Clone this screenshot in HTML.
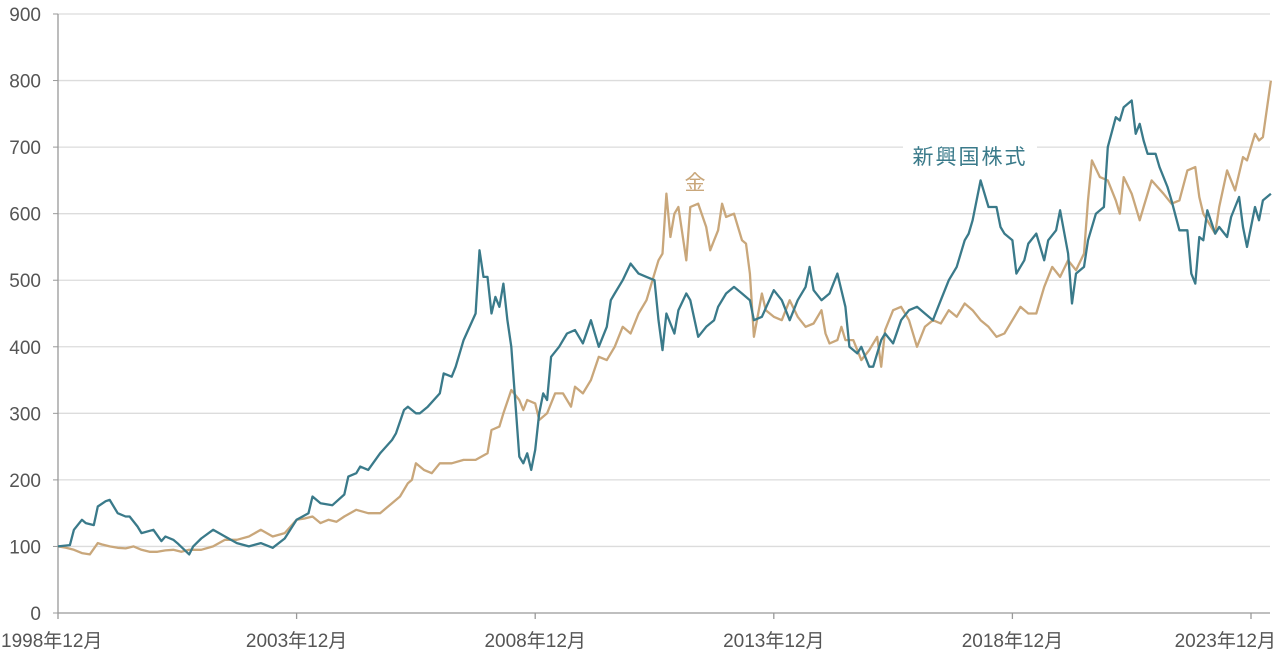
<!DOCTYPE html>
<html><head><meta charset="utf-8">
<style>
html,body{margin:0;padding:0;background:#fff;}
svg{display:block;font-family:"Liberation Sans","Noto Sans CJK JP",sans-serif;}
</style></head>
<body>
<svg id="chart" width="1280" height="661" viewBox="0 0 1280 661">
<g id="grid"></g>
<g id="axes"></g>
<g id="series"></g>
<text x="695" y="190" font-size="21" fill="#c9a77b" text-anchor="middle" font-family="Noto Sans CJK JP, sans-serif">金</text>
<rect x="903" y="140" width="134" height="32" fill="#fff"></rect>
<text x="970" y="164" font-size="21" fill="#3a7a8a" text-anchor="middle" letter-spacing="2" font-family="Noto Sans CJK JP, sans-serif">新興国株式</text>
</svg>
<script>
const yTicks=[0,100,200,300,400,500,600,700,800,900];
const xTickMonths=[0,60,120,180,240,300];
const xTickLabels=["1998年12月","2003年12月","2008年12月","2013年12月","2018年12月","2023年12月"];
const emMonths=[0,3,4,6,7,9,10,12,13,15,17,18,20,21,24,26,27,29,30,33,34,36,39,42,45,48,51,54,57,60,63,64,66,69,72,73,75,76,78,81,84,85,87,88,90,91,93,96,97,99,100,102,105,106,107,108,109,110,111,112,113,114,116,117,118,119,120,121,122,123,124,126,128,130,132,134,136,138,139,140,142,144,146,148,150,151,152,153,155,156,158,159,161,163,165,166,168,170,172,174,175,177,180,182,184,186,188,189,190,192,194,196,198,199,201,202,204,205,207,208,210,212,214,216,218,220,222,224,226,228,229,230,232,234,236,237,238,240,241,243,244,246,248,249,251,252,254,255,256,258,259,261,263,264,266,267,268,270,271,272,273,274,276,277,279,280,282,284,285,286,287,288,289,291,292,294,295,297,298,299,301,302,303,305];
const emValues=[100,102,125,140,135,132,160,168,170,150,145,145,130,120,125,108,115,110,105,88,100,112,125,115,105,100,105,98,112,140,150,175,165,162,178,205,210,220,215,240,260,270,305,310,300,300,310,330,360,355,370,410,450,545,505,505,450,475,460,495,440,400,235,225,240,215,245,300,330,320,385,400,420,425,405,440,400,430,470,480,500,525,510,505,500,440,395,450,420,455,480,470,415,430,440,460,480,490,480,470,440,445,485,470,440,470,490,520,485,470,480,510,460,400,390,400,370,370,410,420,405,440,455,460,450,440,470,500,520,560,570,590,650,610,610,580,570,560,510,530,555,570,530,560,575,605,540,465,510,520,560,600,610,700,745,740,760,770,720,735,710,690,690,670,640,620,575,575,510,495,565,560,605,570,580,565,595,625,580,550,610,590,620,630];
const goldMonths=[
0,2,4,6,8,10,11,13,15,17,
19,21,23,25,27,29,31,33,36,39,
42,45,48,51,54,57,60,62,64,66,
68,70,72,75,78,81,84,86,88,89,
90,92,94,96,99,102,105,108,109,111,
112,114,116,117,118,120,121,123,125,127,
129,130,132,134,136,138,140,142,144,146,
148,150,151,152,153,154,155,156,158,159,
161,163,164,165,166,167,168,170,171,172,
173,174,175,177,178,180,182,184,186,188,
190,192,193,194,196,197,198,200,202,204,
206,207,208,210,212,214,216,218,220,222,
224,226,228,230,232,234,236,238,240,242,
244,246,248,250,252,254,256,258,259,260,
262,264,266,267,268,270,272,273,275,278,
280,282,284,286,287,288,290,291,292,294,
296,298,299,300,301,302,303,305];
const goldValues=[
100,98,95,90,88,105,103,100,98,97,
100,95,92,92,94,95,92,95,95,100,
110,110,115,125,115,120,140,142,145,135,
140,137,145,155,150,150,165,175,195,200,
225,215,210,225,225,230,230,240,275,280,
300,335,320,305,320,315,290,300,330,330,
310,340,330,350,385,380,400,430,420,450,
470,510,530,540,630,565,600,610,530,610,
615,580,545,560,575,615,595,600,580,560,
555,510,415,480,455,445,440,470,445,430,
435,455,420,405,410,430,410,410,380,395,
415,370,425,455,460,440,400,430,440,435,
455,445,465,455,440,430,415,420,440,460,
450,450,490,520,505,530,515,540,620,680,
655,650,620,600,655,630,590,610,650,630,
615,620,665,670,625,600,580,570,610,665,
635,685,680,700,720,710,715,800];
const L=58,R=1270,T=14,B=613;
const xS=m=>L+m*(1251-L)/300;
const yS=v=>B-v*(B-T)/900;
const NS="http://www.w3.org/2000/svg";
function mk(tag,attrs,parent,text){const e=document.createElementNS(NS,tag);for(const k in attrs)e.setAttribute(k,attrs[k]);if(text!==undefined)e.textContent=text;parent.appendChild(e);return e;}
const grid=document.getElementById('grid'),axes=document.getElementById('axes'),series=document.getElementById('series');
yTicks.forEach(t=>{
  if(t>0){const g=mk('line',{x1:L,x2:R,y1:yS(t),y2:yS(t),stroke:'#dcdcdc','stroke-width':1.3},grid);
  
  }
  const tk=mk('line',{x1:L-5,x2:L,y1:yS(t),y2:yS(t),stroke:'#999','stroke-width':1},axes);
  
  
  const tx=mk('text',{x:41,y:yS(t)+7,'font-size':19,fill:'#555','text-anchor':'end'},axes,String(t));
  
  
});
const ya=mk('line',{x1:L,x2:L,y1:T,y2:B,stroke:'#999','stroke-width':1.3},axes);


const xa=mk('line',{x1:L,x2:R,y1:B,y2:B,stroke:'#999','stroke-width':1.3},axes);


xTickMonths.forEach((m,i)=>{
  const tk=mk('line',{x1:xS(m),x2:xS(m),y1:B,y2:B+6,stroke:'#999','stroke-width':1.3},axes);
  
  
  let anchor='middle',x=xS(m);
  if(i===0){anchor='start';x=1;}
  if(i===xTickMonths.length-1){anchor='end';x=1276;}
  const tx=mk('text',{x:x,y:647,'font-size':19,fill:'#555','text-anchor':anchor},axes,xTickLabels[i]);
  
  
});
function line(ms,vs,color,name){
  const n=Math.min(ms.length,vs.length);
  let d='';
  for(let i=0;i<n;i++)d+=(i?'L':'M')+xS(ms[i]).toFixed(1)+','+yS(vs[i]).toFixed(1);
  const p=mk('path',{d:d,fill:'none',stroke:color,'stroke-width':2.3,'stroke-linejoin':'round'},series);
  
  
}
line(goldMonths,goldValues,'#c9a77b','gold-line');
line(emMonths,emValues,'#3a7a8a','emerging-equity-line');
</script>
</body></html>
